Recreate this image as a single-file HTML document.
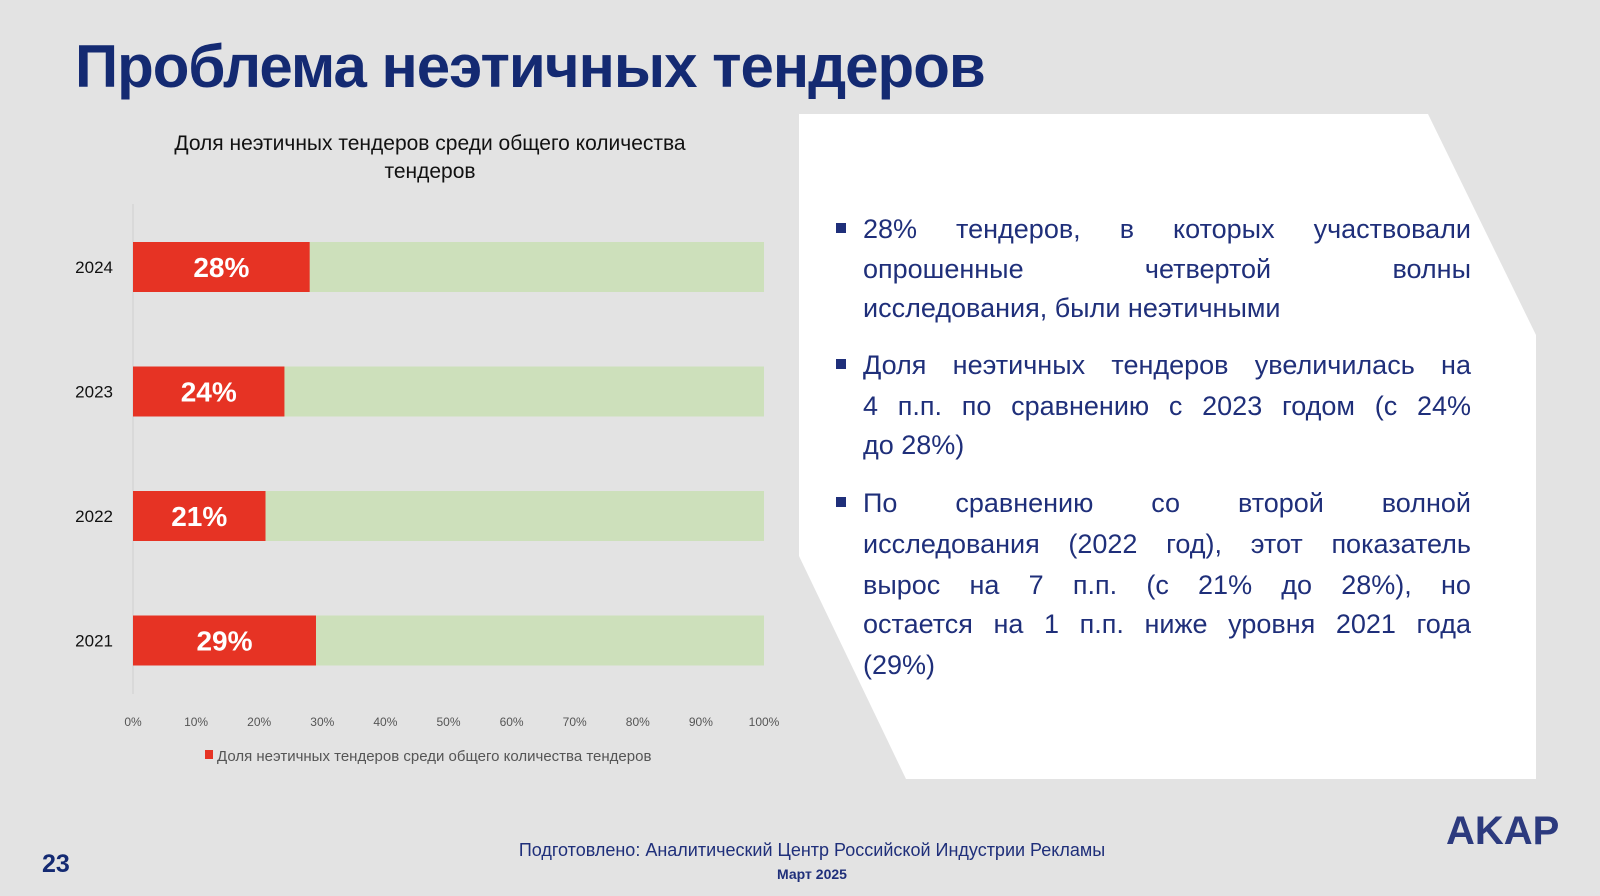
<!DOCTYPE html>
<html><head><meta charset="utf-8"><style>
body{margin:0;width:1600px;height:896px;background:#e3e3e3;overflow:hidden;font-family:"Liberation Sans","DejaVu Sans",sans-serif;position:relative}
.bl{position:absolute;left:863px;width:608px;font-size:27px;color:#1f2f7a;height:40px;line-height:40px;white-space:nowrap}
.j{display:flex;justify-content:space-between}
.sq{position:absolute;left:836px;width:10px;height:10px;background:#1f2f7a}
</style></head><body>
<div style="position:absolute;left:75px;top:32px;font-size:60px;font-weight:bold;color:#142a72;letter-spacing:-1px;width:915px;white-space:nowrap">Проблема неэтичных тендеров</div>

<svg width="800" height="780" style="position:absolute;left:0;top:0" id="chart"></svg>

<svg width="1600" height="896" style="position:absolute;left:0;top:0;pointer-events:none"><polygon points="799,114 1428,114 1536,335 1536,779 906,779 799,556" fill="#ffffff"/></svg>

<div class="sq" style="top:223px"></div>
<div class="bl j" style="top:209px"><span>28%</span><span>тендеров,</span><span>в</span><span>которых</span><span>участвовали</span></div>
<div class="bl j" style="top:249px"><span>опрошенные</span><span>четвертой</span><span>волны</span></div>
<div class="bl" style="top:288px">исследования, были неэтичными</div>

<div class="sq" style="top:359px"></div>
<div class="bl j" style="top:345px"><span>Доля</span><span>неэтичных</span><span>тендеров</span><span>увеличилась</span><span>на</span></div>
<div class="bl j" style="top:386px"><span>4</span><span>п.п.</span><span>по</span><span>сравнению</span><span>с</span><span>2023</span><span>годом</span><span>(с</span><span>24%</span></div>
<div class="bl" style="top:425px">до 28%)</div>

<div class="sq" style="top:497px"></div>
<div class="bl j" style="top:483px"><span>По</span><span>сравнению</span><span>со</span><span>второй</span><span>волной</span></div>
<div class="bl j" style="top:524px"><span>исследования</span><span>(2022</span><span>год),</span><span>этот</span><span>показатель</span></div>
<div class="bl j" style="top:565px"><span>вырос</span><span>на</span><span>7</span><span>п.п.</span><span>(с</span><span>21%</span><span>до</span><span>28%),</span><span>но</span></div>
<div class="bl j" style="top:604px"><span>остается</span><span>на</span><span>1</span><span>п.п.</span><span>ниже</span><span>уровня</span><span>2021</span><span>года</span></div>
<div class="bl" style="top:645px">(29%)</div>

<div style="position:absolute;left:42px;top:850px;font-size:25px;font-weight:bold;color:#142a72">23</div>
<div style="position:absolute;left:0;width:1624px;text-align:center;top:840px;font-size:18px;color:#1f2f7a">Подготовлено: Аналитический Центр Российской Индустрии Рекламы</div>
<div style="position:absolute;left:0;width:1624px;text-align:center;top:866px;font-size:14px;font-weight:bold;color:#1f2f7a">Март 2025</div>
<div style="position:absolute;left:1446px;top:809px;font-size:40px;font-weight:bold;color:#2c3a7e;letter-spacing:0px">AKAP</div>

<script>
const years=["2024","2023","2022","2021"];
const shares=[28,24,21,29];
const ticks=[0,10,20,30,40,50,60,70,80,90,100];
const NS="http://www.w3.org/2000/svg";
const svg=document.getElementById('chart');
const x=v=>133+v*6.31;
const yc=i=>267+i*124.5;
function mk(t,a){const e=document.createElementNS(NS,t);for(const k in a)e.setAttribute(k,a[k]);svg.appendChild(e);return e;}
let t=mk('text',{x:430,y:150,'text-anchor':'middle','font-size':21,fill:'#111'});t.textContent='Доля неэтичных тендеров среди общего количества';


t=mk('text',{x:430,y:178,'text-anchor':'middle','font-size':21,fill:'#111'});t.textContent='тендеров';


let ax=mk('line',{x1:133,y1:204,x2:133,y2:694,stroke:'#cfcfcf','stroke-width':1});


years.forEach((yr,i)=>{
 const y=yc(i);
 let g=mk('rect',{x:x(0),y:y-25,width:x(100)-x(0),height:50,fill:'#cde0bb'});
 
 
 let r=mk('rect',{x:x(0),y:y-25,width:x(shares[i])-x(0),height:50,fill:'#e63324'});
 
 
 let v=mk('text',{x:(x(0)+x(shares[i]))/2,y:y+10,'text-anchor':'middle','font-size':28,'font-weight':'bold',fill:'#fff'});v.textContent=shares[i]+'%';
 
 
 let l=mk('text',{x:113,y:y+6,'text-anchor':'end','font-size':17,fill:'#111'});l.textContent=yr;
 
 
});
ticks.forEach(tv=>{
 let e=mk('text',{x:x(tv),y:726,'text-anchor':'middle','font-size':12,fill:'#555'});e.textContent=tv+'%';
 
 
});
let ls=mk('rect',{x:205,y:750,width:8,height:9,fill:'#e63324'});


let lt=mk('text',{x:217,y:761,'font-size':15,fill:'#555'});lt.textContent='Доля неэтичных тендеров среди общего количества тендеров';


</script>
</body></html>
